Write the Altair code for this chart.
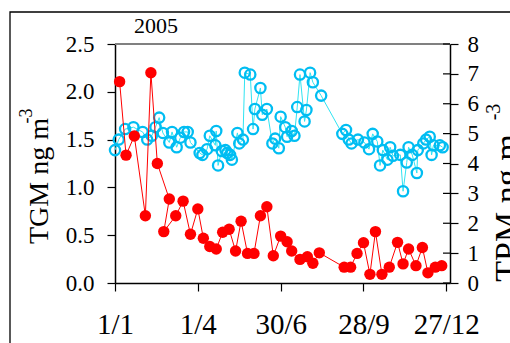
import altair as alt
import pandas as pd

# Total gaseous mercury (left axis), ng m-3
tgm_dates = [
    "2005-01-01", "2005-01-05", "2005-01-12", "2005-01-21", "2005-01-31", "2005-02-05",
    "2005-02-10", "2005-02-14", "2005-02-18", "2005-02-22", "2005-03-01", "2005-03-04",
    "2005-03-09", "2005-03-13", "2005-03-17", "2005-03-21", "2005-03-24", "2005-04-03",
    "2005-04-06", "2005-04-11", "2005-04-14", "2005-04-20", "2005-04-21", "2005-04-23",
    "2005-04-27", "2005-05-01", "2005-05-03", "2005-05-06", "2005-05-08", "2005-05-14",
    "2005-05-16", "2005-05-20", "2005-05-22", "2005-05-28", "2005-05-31", "2005-06-02",
    "2005-06-08", "2005-06-10", "2005-06-15", "2005-06-21", "2005-06-24", "2005-06-28",
    "2005-06-30", "2005-07-05", "2005-07-07", "2005-07-12", "2005-07-15", "2005-07-18",
    "2005-07-21", "2005-07-26", "2005-07-28", "2005-08-01", "2005-08-04", "2005-08-13",
    "2005-09-05", "2005-09-09", "2005-09-12", "2005-09-15", "2005-09-22", "2005-09-29",
    "2005-10-04", "2005-10-08", "2005-10-13", "2005-10-16", "2005-10-19", "2005-10-24",
    "2005-10-27", "2005-10-30", "2005-11-07", "2005-11-10", "2005-11-14", "2005-11-16",
    "2005-11-20", "2005-11-25", "2005-11-26", "2005-12-02", "2005-12-05", "2005-12-09",
    "2005-12-11", "2005-12-13", "2005-12-20", "2005-12-23",
]
tgm_values = [
    1.39, 1.50, 1.61, 1.63, 1.58, 1.50,
    1.54, 1.63, 1.73, 1.57, 1.47, 1.58,
    1.42, 1.52, 1.58, 1.58, 1.47, 1.36,
    1.34, 1.40, 1.54, 1.44, 1.59, 1.23,
    1.38, 1.39, 1.36, 1.34, 1.29, 1.57,
    1.46, 1.50, 2.20, 2.18, 1.61, 1.82,
    2.04, 1.76, 1.82, 1.46, 1.51, 1.41,
    1.74, 1.63, 1.53, 1.59, 1.54, 1.84,
    2.18, 1.69, 1.81, 2.20, 2.10, 1.96,
    1.56, 1.60, 1.50, 1.46, 1.50, 1.47,
    1.40, 1.56, 1.48, 1.23, 1.39, 1.29,
    1.42, 1.33, 1.34, 0.96, 1.26, 1.42,
    1.34, 1.15, 1.39, 1.46, 1.50, 1.53,
    1.34, 1.44, 1.44, 1.42,
]

# Total particulate mercury (right axis), listed in sampling order
tpm_dates = [
    "2005-01-06", "2005-01-13", "2005-01-22", "2005-02-03", "2005-02-09", "2005-02-16",
    "2005-03-01", "2005-02-23", "2005-03-08", "2005-03-16", "2005-03-24", "2005-04-01",
    "2005-04-07", "2005-04-14", "2005-04-21", "2005-04-28", "2005-05-05", "2005-05-12",
    "2005-05-18", "2005-05-25", "2005-06-01", "2005-06-08", "2005-06-15", "2005-06-22",
    "2005-06-30", "2005-07-07", "2005-07-12", "2005-07-21", "2005-07-29", "2005-08-04",
    "2005-08-11", "2005-09-07", "2005-09-14", "2005-09-21", "2005-09-28", "2005-10-05",
    "2005-10-11", "2005-10-18", "2005-10-26", "2005-11-04", "2005-11-10", "2005-11-16",
    "2005-11-24", "2005-12-01", "2005-12-07", "2005-12-15", "2005-12-22",
]
tpm_values = [
    6.74, 4.28, 4.92, 2.25, 7.04, 4.00,
    2.81, 1.72, 2.25, 2.74, 1.63, 2.48,
    1.50, 1.22, 1.14, 1.70, 1.80, 1.07,
    2.07, 0.99, 0.99, 2.25, 2.55, 0.91,
    1.57, 1.38, 1.07, 0.79, 0.88, 0.66,
    1.01, 0.53, 0.53, 0.99, 1.35, 0.29,
    1.72, 0.29, 0.53, 1.36, 0.64, 1.14,
    0.58, 1.19, 0.34, 0.53, 0.58,
]

x_tick_dates = [(1, 1), (4, 1), (6, 30), (9, 28), (12, 27)]
tgm_ticks = [0.0, 0.5, 1.0, 1.5, 2.0, 2.5]
tpm_ticks = [0, 1, 2, 3, 4, 5, 6, 7, 8]

SERIF = "Liberation Serif"
W, H = 335, 239
CYAN_PT = "#00bdf2"
CYAN_LN = "#30e4f2"
RED = "#ff0000"

tgm = pd.DataFrame({"date": tgm_dates, "TGM": tgm_values})
tpm = pd.DataFrame({"date": tpm_dates, "TPM": tpm_values, "seq": list(range(len(tpm_dates)))})
tpm_tick_df = pd.DataFrame({"TPM": tpm_ticks})

x_enc = alt.X(
    "date:T",
    scale=alt.Scale(
        type="utc",
        domain=[alt.DateTime(year=2005, month=1, date=1, utc=True),
                alt.DateTime(year=2005, month=12, date=31, utc=True)],
    ),
    axis=alt.Axis(
        values=[alt.DateTime(year=2005, month=m, date=d, utc=True) for m, d in x_tick_dates],
        labelExpr="utcdate(datum.value) + '/' + (utcmonth(datum.value) + 1)",
        title=None, grid=False, tickSize=8, labelFontSize=29, labelPadding=42,
        labelBaseline="alphabetic", labelAlign="center", labelFlush=False,
        labelOverlap=False, labelFont=SERIF, labelColor="black",
    ),
)

y_tgm = alt.Y(
    "TGM:Q",
    scale=alt.Scale(domain=[0, 2.5], nice=False),
    axis=alt.Axis(orient="left", values=tgm_ticks, format=".1f", title=None, grid=False,
                  tickSize=8, labelPadding=13, labelFontSize=23, labelFont=SERIF,
                  labelColor="black", labelFlush=False),
)
y_tpm = alt.Y(
    "TPM:Q",
    scale=alt.Scale(domain=[0, 8], nice=False),
    axis=alt.Axis(orient="right", values=tpm_ticks, format="d", title=None, grid=False,
                  tickSize=8, labelPadding=9, labelFontSize=23, labelFont=SERIF,
                  labelColor="black", labelFlush=False),
)

one = pd.DataFrame({"k": [0]})


def label(text, x, y, size, angle=0):
    return alt.Chart(one).mark_text(
        text=text, font=SERIF, fontSize=size, angle=angle, align="center",
        baseline="alphabetic", color="black",
    ).encode(x=alt.value(x), y=alt.value(y))


frame = alt.Chart(one).mark_rect(fillOpacity=0, stroke="black", strokeWidth=1.3).encode(
    x=alt.value(-105), x2=alt.value(W + 100), y=alt.value(-32), y2=alt.value(H + 100)
)
top_line = alt.Chart(one).mark_rule(color="#808080", strokeWidth=2).encode(
    x=alt.value(0), x2=alt.value(W), y=alt.value(0)
)

tgm_line = alt.Chart(tgm).mark_line(color=CYAN_LN, strokeWidth=1).encode(x=x_enc, y=y_tgm)
tgm_pts = alt.Chart(tgm).mark_point(
    shape="circle", filled=False, color=CYAN_PT, size=105, strokeWidth=2.3, opacity=1
).encode(x=x_enc, y=y_tgm)

tpm_line = alt.Chart(tpm).mark_line(color=RED, strokeWidth=1).encode(
    x=x_enc, y=y_tpm, order=alt.Order("seq:Q")
)
tpm_pts = alt.Chart(tpm).mark_circle(color=RED, size=130, opacity=1).encode(x=x_enc, y=y_tpm)

# inward half of the crossing ticks on the right axis
tpm_inner_ticks = alt.Chart(tpm_tick_df).mark_rule(color="black", strokeWidth=1.2).encode(
    y=y_tpm, x=alt.value(W - 7), x2=alt.value(W),
)

left_group = alt.layer(
    frame, top_line, tgm_line, tgm_pts,
    label("2005", 41, -11, 22),
    label("TGM ng m", -67, 137, 28, angle=270),
    label("-3", -83, 72, 18, angle=270),
    label("TPM ng m", 403, 164, 34, angle=270),
    label("-3", 385, 68, 20, angle=270),
)
right_group = alt.layer(tpm_inner_ticks, tpm_line, tpm_pts)

chart = alt.layer(left_group, right_group).resolve_scale(y="independent").properties(
    width=W, height=H,
    background="white",
    autosize=alt.AutoSizeParams(type="none"),
    padding={"left": 115, "top": 44, "right": 60, "bottom": 60},
).configure_view(stroke=None).configure_axis(
    labelFont=SERIF, labelColor="black", domainColor="black", tickColor="black",
    domainWidth=1.5, tickWidth=1.2,
)

chart.save("out.html", embed_options={"renderer": "svg", "actions": False})
